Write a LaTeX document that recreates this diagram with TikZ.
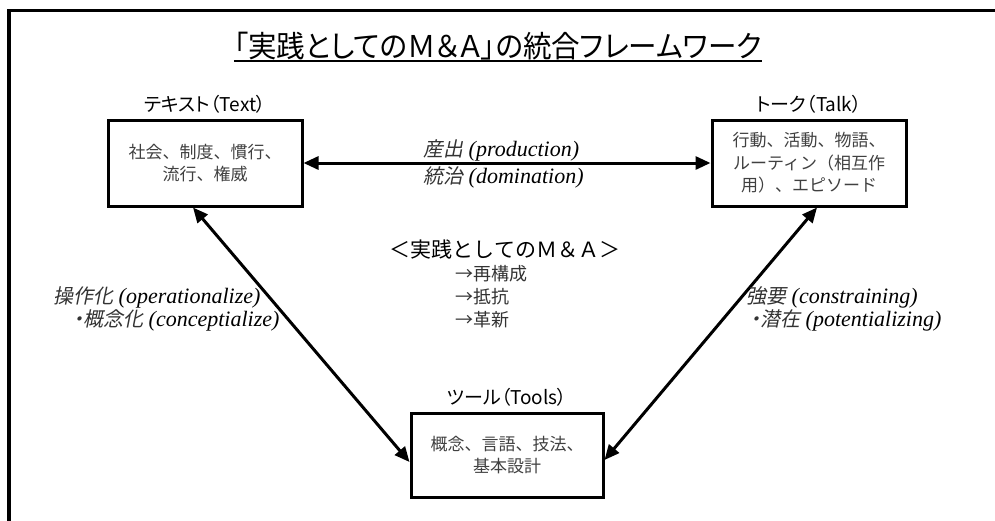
\documentclass[tikz,border=0pt]{standalone}
\usepackage{fontspec}
\usetikzlibrary{arrows.meta}
\newfontfamily\jp{Noto Sans CJK JP}
\newfontfamily\jpp[RawFeature=+palt]{Noto Sans CJK JP}
\newfontfamily\jpt[FakeStretch=0.95,RawFeature=+palt]{Noto Sans CJK JP}
\newfontfamily\jpi[FakeSlant=0.2,RawFeature=+palt]{Noto Sans CJK JP}
\newfontfamily\seri{Liberation Serif}
\newcommand{\ilab}[2]{{\jpi\fontsize{20}{24}\selectfont\color{black!80}#1}\hspace{0.25em}{\seri\itshape #2}}
\begin{document}
\begin{tikzpicture}[x=1pt,y=-1pt,
  box/.style={draw, line width=3pt, minimum width=194pt, minimum height=86pt, inner sep=0pt},
  boxtext/.style={font=\jp\fontsize{17}{22.5}\selectfont, text=black!75, align=center},
  head/.style={font=\jpp\fontsize{19}{22}\selectfont, inner sep=0pt},
  lab/.style={font=\fontsize{22}{24}\selectfont, anchor=west, inner sep=0pt},
  item/.style={font=\jp\fontsize{18}{20}\selectfont, text=black!80, anchor=west, inner sep=0pt},
  arr/.style={line width=3pt, {Triangle[length=15pt,width=13pt]}-{Triangle[length=15pt,width=13pt]}},
]
\useasboundingbox (0,0) rectangle (995,520);
% frame
\draw[line width=3.5pt] (9,525) -- (9,10.5) -- (1000,10.5);
% title
\node[font=\jpt\fontsize{30}{32}\selectfont, inner sep=0pt] (title) at (498,46) {「実践としてのＭ＆Ａ」の統合フレームワーク};
\draw[line width=1.8pt] ([yshift=-1pt]title.south west) -- ([yshift=-1pt]title.south east);
% boxes
\node[box, boxtext] (txt) at (205,163) {社会、制度、慣行、\\流行、権威};
\node[box, boxtext] (talk) at (809,163) {行動、活動、物語、\\ルーティン（相互作\\用）、エピソード};
\node[box, boxtext, minimum width=192pt, minimum height=84pt] (tools) at (507,455) {概念、言語、技法、\\基本設計};
% heads
\node[head] (txtlab) at (205,104) {テキスト（Text）};
\node[head] (talklab) at (809,104) {トーク（Talk）};
\node[head] (toolslab) at (507,397) {ツール（Tools）};
% arrows
\draw[arr] (txt.east) -- (talk.west);
\draw[arr] ([xshift=-12pt]txt.south) -- ([yshift=-7pt]tools.west);
\draw[arr] ([xshift=8pt]talk.south) -- ([yshift=-5pt]tools.east);
% arrow labels
\node[lab] (prod) at (423,150) {\ilab{産出}{(production)}};
\node[lab] (dom) at (423,177) {\ilab{統治}{(domination)}};
\node[lab] (oper) at (53,297) {\ilab{操作化}{(operationalize)}};
\node[lab] (conc) at (73,320) {\ilab{・概念化}{(conceptialize)}};
\node[lab] (cons) at (746,297) {\ilab{強要}{(constraining)}};
\node[lab] (pote) at (750,320) {\ilab{・潜在}{(potentializing)}};
% centre
\node[font=\jp\fontsize{21}{24}\selectfont, inner sep=0pt] (mid) at (505,250) {＜実践としてのＭ＆Ａ＞};
\node[item] (i1) at (455,274) {→再構成};
\node[item] (i2) at (455,297) {→抵抗};
\node[item] (i3) at (455,320) {→革新};
\end{tikzpicture}
\end{document}
